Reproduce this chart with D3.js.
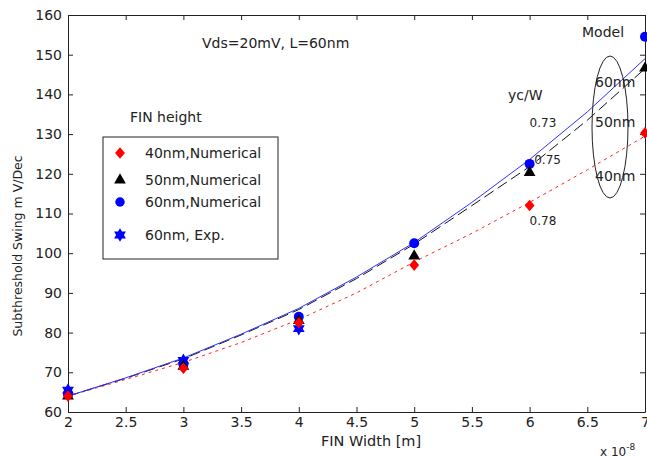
<!DOCTYPE html>
<html>
<head>
<meta charset="utf-8">
<script src="https://cdn.jsdelivr.net/npm/d3@7"></script>
<style>
  body { margin: 0; background: #fff; }
  text { font-family: "DejaVu Sans", sans-serif; fill: #222; }
</style>
</head>
<body>
<svg id="chart"></svg>
<script>
// FIN width (x 1e-8 m)
const widths = [2, 3, 4, 5, 6, 7];
const num40 = [64, 71, 82.5, 97, 112, 130.3];
const num50 = [64, 71.5, 83, 99.3, 120.3, 146.6];
const num60 = [64.5, 72, 84, 102.5, 122.5, 154.5];
const expWidths = [2, 3, 4];
const exp60 = [65.5, 73, 81];

// model curves
const modelX = [2, 2.5, 3, 3.5, 4, 4.5, 5, 5.5, 6, 6.5, 7];
const model40 = [64, 68.2, 72.5, 77.5, 83.3, 90, 97.8, 105, 112.8, 121, 129.5];
const model50 = [64, 68.5, 73.4, 79.4, 85.8, 93.6, 102.3, 112, 121.8, 133.5, 146.5];
const model60 = [64, 68.6, 73.6, 79.6, 86.1, 94, 102.7, 112.8, 123.6, 135.6, 149];

const xTicks = [2, 2.5, 3, 3.5, 4, 4.5, 5, 5.5, 6, 6.5, 7];
const yTicks = [60, 70, 80, 90, 100, 110, 120, 130, 140, 150, 160];
const ycwLabels = [
  { text: "0.73", x: 6.0, y: 131.8 },
  { text: "0.75", x: 6.04, y: 122.4 },
  { text: "0.78", x: 6.0, y: 107.2 }
];

let width = 647;
let height = 458;
let margin = { top: 15, right: 2, bottom: 46, left: 68 };

let svg = d3.select("#chart")
    .attr("width", width)
    .attr("height", height);

let xScale = d3.scaleLinear()
    .domain([2, 7])
    .range([margin.left, width - margin.right]);

let yScale = d3.scaleLinear()
    .domain([60, 160])
    .range([height - margin.bottom, margin.top]);

// axes with inward ticks
let axisStyle = g => {
    g.select(".domain").attr("stroke", "#222");
    g.selectAll(".tick line").attr("stroke", "#222");
    g.selectAll(".tick text").style("font-size", "14px").attr("fill", "#222");
};

svg.append("g")
    .attr("transform", `translate(0, ${height - margin.bottom})`)
    .call(d3.axisBottom(xScale).tickValues(xTicks).tickFormat(d3.format("")).tickSizeInner(-5).tickSizeOuter(0).tickPadding(5))
    .call(axisStyle);

svg.append("g")
    .attr("transform", `translate(0, ${margin.top})`)
    .call(d3.axisTop(xScale).tickValues(xTicks).tickFormat("").tickSizeInner(-5).tickSizeOuter(0))
    .call(axisStyle);

svg.append("g")
    .attr("transform", `translate(${margin.left}, 0)`)
    .call(d3.axisLeft(yScale).tickValues(yTicks).tickSizeInner(-5).tickSizeOuter(0).tickPadding(6))
    .call(axisStyle);

svg.append("g")
    .attr("transform", `translate(${width - margin.right}, 0)`)
    .call(d3.axisRight(yScale).tickValues(yTicks).tickFormat("").tickSizeInner(-5).tickSizeOuter(0))
    .call(axisStyle);

// labels
svg.append("text")
    .attr("x", 371)
    .attr("y", 446)
    .attr("text-anchor", "middle")
    .style("font-size", "14.5px")
    .text("FIN Width  [m]");

svg.append("text")
    .attr("transform", "rotate(-90)")
    .attr("x", -246)
    .attr("y", 22)
    .attr("text-anchor", "middle")
    .style("font-size", "12.5px")
    .text("Subthreshold Swing m V/Dec");

let expo = svg.append("text")
    .attr("x", 600)
    .attr("y", 456)
    .style("font-size", "12px");
expo.append("tspan").text("x 10");
expo.append("tspan").attr("dy", -6).style("font-size", "9px").text("-8");

// model lines
let line = d3.line()
    .x((d, i) => xScale(modelX[i]))
    .y(d => yScale(d));

svg.append("path")
    .datum(model40)
    .attr("d", line)
    .attr("fill", "none")
    .attr("stroke", "#ff2020")
    .attr("stroke-width", 1)
    .attr("stroke-dasharray", "3,4");

svg.append("path")
    .datum(model50)
    .attr("d", line)
    .attr("fill", "none")
    .attr("stroke", "#111")
    .attr("stroke-width", 1)
    .attr("stroke-dasharray", "11,5");

svg.append("path")
    .datum(model60)
    .attr("d", line)
    .attr("fill", "none")
    .attr("stroke", "#3030ff")
    .attr("stroke-width", 1);

// markers
const hexagram = {
    draw(context, size) {
        let r = Math.sqrt(size) * 0.62;
        let ri = r * 0.58;
        for (let i = 0; i < 12; i++) {
            let a = -Math.PI / 2 + i * Math.PI / 6;
            let rr = i % 2 === 0 ? r : ri;
            if (i === 0) context.moveTo(rr * Math.cos(a), rr * Math.sin(a));
            else context.lineTo(rr * Math.cos(a), rr * Math.sin(a));
        }
        context.closePath();
    }
};

// square-ish diamond, a bit taller than wide
const rhombus = {
    draw(context, size) {
        let h = Math.sqrt(size) * 0.78;
        let w = h * 0.85;
        context.moveTo(0, -h);
        context.lineTo(w, 0);
        context.lineTo(0, h);
        context.lineTo(-w, 0);
        context.closePath();
    }
};

let symDiamond = d3.symbol().type(rhombus).size(55);
let symTriangle = d3.symbol().type(d3.symbolTriangle).size(60);
let symStar = d3.symbol().type(hexagram).size(120);

svg.selectAll(".exp60")
    .data(exp60)
    .enter().append("path")
    .attr("class", "exp60")
    .attr("transform", (d, i) => `translate(${xScale(expWidths[i])}, ${yScale(d)})`)
    .attr("d", symStar)
    .attr("fill", "#0000ff");

svg.selectAll(".num60")
    .data(num60)
    .enter().append("circle")
    .attr("class", "num60")
    .attr("cx", (d, i) => xScale(widths[i]))
    .attr("cy", d => yScale(d))
    .attr("r", 5)
    .attr("fill", "#0000ff");

svg.selectAll(".num50")
    .data(num50)
    .enter().append("path")
    .attr("class", "num50")
    .attr("transform", (d, i) => `translate(${xScale(widths[i])}, ${yScale(d)})`)
    .attr("d", symTriangle)
    .attr("fill", "#000");

svg.selectAll(".num40")
    .data(num40)
    .enter().append("path")
    .attr("class", "num40")
    .attr("transform", (d, i) => `translate(${xScale(widths[i])}, ${yScale(d)})`)
    .attr("d", symDiamond)
    .attr("fill", "#ff0000");

// annotations
svg.append("text")
    .attr("x", 202).attr("y", 48)
    .style("font-size", "14px")
    .text("Vds=20mV, L=60nm");

svg.append("text")
    .attr("x", 130).attr("y", 122)
    .style("font-size", "14px")
    .text("FIN height");

svg.append("text")
    .attr("x", 582).attr("y", 37)
    .style("font-size", "14px")
    .text("Model");

svg.append("text")
    .attr("x", 508).attr("y", 100)
    .style("font-size", "14px")
    .text("yc/W");

svg.selectAll(".ycw")
    .data(ycwLabels)
    .enter().append("text")
    .attr("class", "ycw")
    .attr("x", d => xScale(d.x))
    .attr("y", d => yScale(d.y))
    .style("font-size", "12px")
    .text(d => d.text);

svg.append("ellipse")
    .attr("cx", 610).attr("cy", 127)
    .attr("rx", 18).attr("ry", 71)
    .attr("fill", "none")
    .attr("stroke", "#222");

const modelNames = ["60nm", "50nm", "40nm"];
const modelNameY = [87, 127, 181];
svg.selectAll(".mname")
    .data(modelNames)
    .enter().append("text")
    .attr("class", "mname")
    .attr("x", 595)
    .attr("y", (d, i) => modelNameY[i])
    .style("font-size", "14px")
    .text(d => d);

// legend
const legendNames = ["40nm,Numerical", "50nm,Numerical", "60nm,Numerical", "60nm, Exp."];
const legendSyms = [symDiamond, symTriangle, d3.symbol().type(d3.symbolCircle).size(70), symStar];
const legendColors = ["#ff0000", "#000", "#0000ff", "#0000ff"];
const legendY = [153, 180, 202, 235];

let legend = svg.append("g");
legend.append("rect")
    .attr("x", 103).attr("y", 137)
    .attr("width", 175).attr("height", 122)
    .attr("fill", "#fff")
    .attr("stroke", "#222");

legend.selectAll(".lsym")
    .data(legendNames)
    .enter().append("path")
    .attr("transform", (d, i) => `translate(120, ${legendY[i]})`)
    .attr("d", (d, i) => legendSyms[i]())
    .attr("fill", (d, i) => legendColors[i]);

legend.selectAll(".ltxt")
    .data(legendNames)
    .enter().append("text")
    .attr("x", 145)
    .attr("y", (d, i) => legendY[i] + 5)
    .style("font-size", "14px")
    .text(d => d);
</script>
</body>
</html>
